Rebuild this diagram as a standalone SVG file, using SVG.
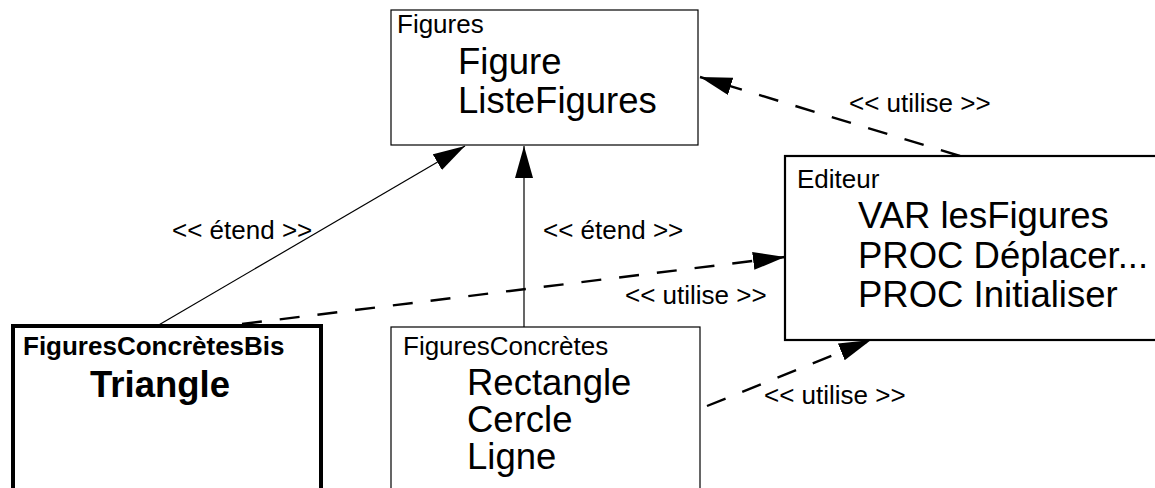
<svg xmlns="http://www.w3.org/2000/svg" width="1155" height="488" viewBox="0 0 1155 488">
<style>
.box{fill:#fff;stroke:#000}
.s{font-family:"Liberation Sans",Arial,sans-serif;font-size:26px;fill:#000}
.b{font-family:"Liberation Sans",Arial,sans-serif;font-size:36.5px;fill:#000}
.bold{font-weight:bold}
.solid{fill:none;stroke:#000;stroke-width:1.2}
.dash{fill:none;stroke:#000;stroke-width:2.4;stroke-dasharray:20 18}
</style>
<defs>
<marker id="ah" markerUnits="userSpaceOnUse" markerWidth="34" markerHeight="20" refX="32" refY="9" orient="auto">
<path d="M0,0 L32,9 L0,18 z" fill="#000"/>
</marker>
</defs>
<rect width="1155" height="488" fill="#fff"/>
<g id="connectors">
<line class="solid" x1="157" y1="326" x2="465" y2="146" marker-end="url(#ah)"/>
<line class="solid" x1="524" y1="327" x2="524" y2="146" marker-end="url(#ah)"/>
<line class="dash" x1="242" y1="324" x2="785" y2="257" marker-end="url(#ah)"/>
<line class="dash" x1="960" y1="156" x2="700" y2="77" marker-end="url(#ah)"/>
<line class="dash" x1="707" y1="406" x2="871" y2="340" marker-end="url(#ah)"/>
<text class="s" x="172" y="239">&lt;&lt; étend &gt;&gt;</text>
<text class="s" x="543" y="239">&lt;&lt; étend &gt;&gt;</text>
<text class="s" x="849" y="112">&lt;&lt; utilise &gt;&gt;</text>
<text class="s" x="625" y="304">&lt;&lt; utilise &gt;&gt;</text>
<text class="s" x="764" y="404">&lt;&lt; utilise &gt;&gt;</text>
</g>
<g id="figures">
<rect class="box" x="391" y="10" width="307" height="135" stroke-width="1.2"/>
<text class="s" x="397" y="33">Figures</text>
<text class="b" x="458" y="74">Figure</text>
<text class="b" x="458" y="113">ListeFigures</text>
</g>
<g id="editeur">
<rect class="box" x="785" y="156" width="380" height="184" stroke-width="2.2"/>
<text class="s" x="797" y="188">Editeur</text>
<text class="b" x="858" y="228">VAR lesFigures</text>
<text class="b" x="858" y="268">PROC Déplacer...</text>
<text class="b" x="858" y="307">PROC Initialiser</text>
</g>
<g id="figuresconcretesbis">
<rect class="box" x="13" y="326" width="308" height="180" stroke-width="4"/>
<text class="s bold" x="23" y="355">FiguresConcrètesBis</text>
<text class="b bold" x="90" y="397">Triangle</text>
</g>
<g id="figuresconcretes">
<rect class="box" x="391" y="327" width="309" height="180" stroke-width="1.2"/>
<text class="s" x="403" y="355">FiguresConcrètes</text>
<text class="b" x="467" y="395">Rectangle</text>
<text class="b" x="467" y="432">Cercle</text>
<text class="b" x="467" y="469">Ligne</text>
</g>
</svg>
